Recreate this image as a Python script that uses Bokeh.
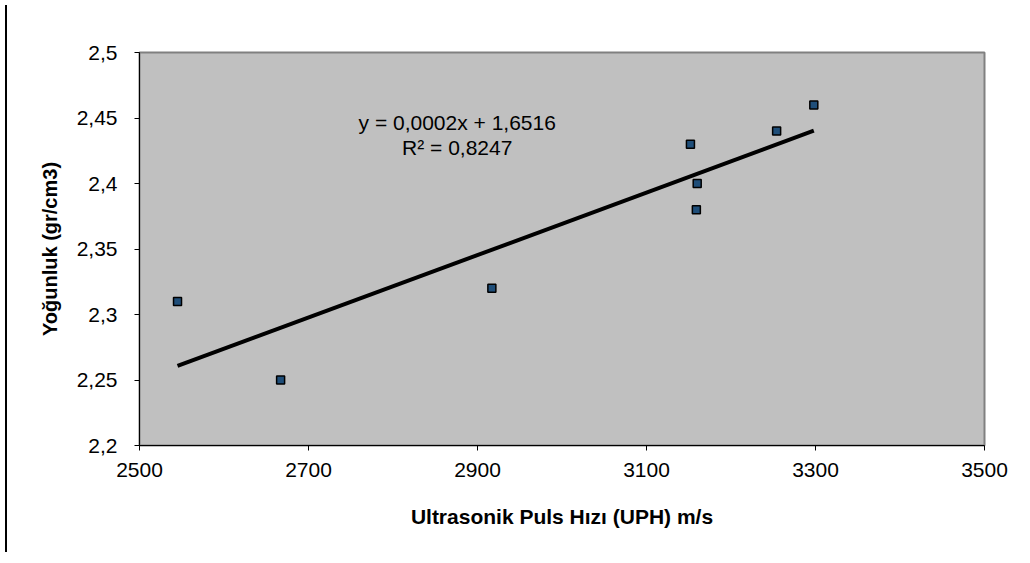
import numpy as np
from bokeh.plotting import figure
from bokeh.models import Range1d, FixedTicker, Label, Div
from bokeh.layouts import row
from bokeh.embed import file_html
from bokeh.resources import INLINE

# Data
uph = [2545, 2667, 2917, 3152, 3160, 3159, 3254, 3298]
density = [2.31, 2.25, 2.32, 2.43, 2.40, 2.38, 2.44, 2.46]

x_ticks = [2500, 2700, 2900, 3100, 3300, 3500]
y_ticks = [2.2, 2.25, 2.3, 2.35, 2.4, 2.45, 2.5]
y_tick_labels = ["2,2", "2,25", "2,3", "2,35", "2,4", "2,45", "2,5"]

eq_line1 = "y = 0,0002x + 1,6516"
eq_line2 = "R² = 0,8247"

x_title = "Ultrasonik Puls Hızı (UPH) m/s"
y_title = "Yoğunluk (gr/cm3)"

FONT = "Liberation Sans"

p = figure(width=998, height=545, output_backend="svg", toolbar_location=None,
           x_range=Range1d(2500, 3500), y_range=Range1d(2.2, 2.5),
           min_border_left=127, min_border_right=26, min_border_top=52,
           min_border_bottom=100)

p.background_fill_color = "#C0C0C0"
p.border_fill_color = "white"
p.outline_line_color = "#808080"
p.outline_line_width = 2
p.xgrid.visible = False
p.ygrid.visible = False

p.xaxis.ticker = FixedTicker(ticks=x_ticks)
p.yaxis.ticker = FixedTicker(ticks=y_ticks)
p.yaxis.major_label_overrides = {t: l for t, l in zip(y_ticks, y_tick_labels)}
p.xaxis.major_label_overrides = {t: str(t) for t in x_ticks}

for ax in (p.xaxis, p.yaxis):
    ax.axis_line_color = "black"
    ax.axis_line_width = 1
    ax.major_tick_line_color = "black"
    ax.major_tick_in = 0
    ax.major_tick_out = 5
    ax.minor_tick_line_color = None
    ax.major_label_text_font = FONT
    ax.major_label_text_font_size = "21px"
    ax.major_label_text_color = "black"
    ax.axis_label_text_font = FONT
    ax.axis_label_text_font_style = "bold"
    ax.axis_label_text_color = "black"

p.xaxis.axis_label = x_title
p.yaxis.axis_label = y_title
p.xaxis.axis_label_text_font_size = "21px"
p.yaxis.axis_label_text_font_size = "20px"
p.xaxis.major_label_standoff = 12
p.yaxis.major_label_standoff = 17
p.xaxis.axis_label_standoff = 25
p.yaxis.axis_label_standoff = 13

# Linear trendline (least squares from data)
slope, intercept = np.polyfit(uph, density, 1)
xs = [min(uph), max(uph)]
ys = [slope * v + intercept for v in xs]
p.line(xs, ys, line_color="black", line_width=4)

p.scatter(uph, density, marker="square", size=8, fill_color="#1F4E79",
          line_color="black", line_width=1.5)

p.add_layout(Label(x=2876, y=2.4466, text=eq_line1, text_align="center",
                   text_baseline="middle", text_font=FONT,
                   text_font_size="21px", text_color="black"))
p.add_layout(Label(x=2876, y=2.4275, text=eq_line2, text_align="center",
                   text_baseline="middle", text_font=FONT,
                   text_font_size="21px", text_color="black"))

edge = Div(text="", width=2, height=547,
           styles={"background-color": "black"})

layout = row(edge, p)
open("out.html", "w").write(file_html(layout, INLINE))
